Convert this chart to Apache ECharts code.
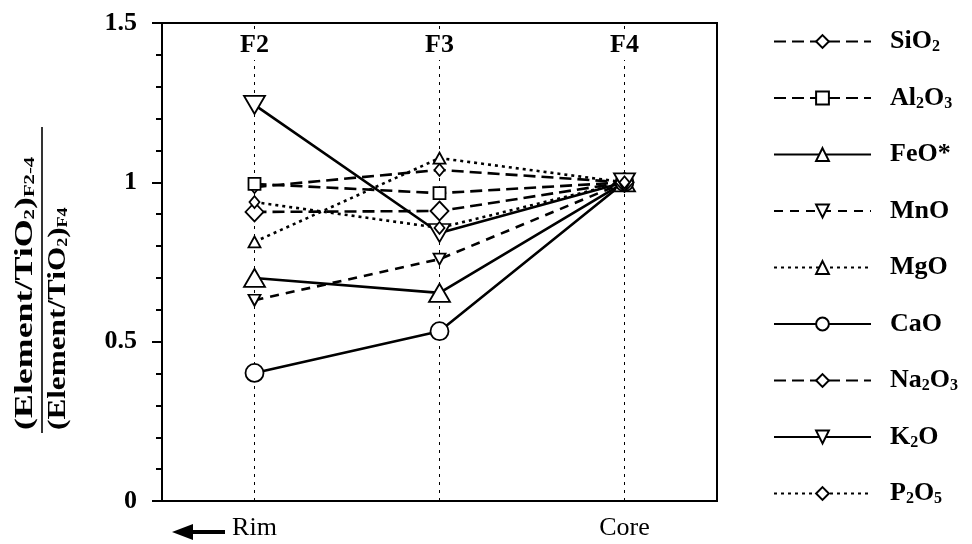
<!DOCTYPE html>
<html>
<head>
<meta charset="utf-8">
<script src="https://cdn.jsdelivr.net/npm/echarts@6/dist/echarts.min.js"></script>
<style>html,body{margin:0;padding:0;background:#fff}#c{width:972px;height:544px}</style>
</head>
<body>
<div id="c"></div>
<script>
// ---- data ----
const categories = ['F2', 'F3', 'F4'];
const positionLabels = ['Rim', '', 'Core'];
const seriesNames = ['SiO2', 'Al2O3', 'FeO*', 'MnO', 'MgO', 'CaO', 'Na2O3', 'K2O', 'P2O5'];
const SiO2  = [0.985, 1.039, 1.0];
const Al2O3 = [0.995, 0.966, 1.0];
const FeO   = [0.700, 0.653, 1.0];
const MnO   = [0.630, 0.759, 1.0];
const MgO   = [0.813, 1.076, 1.0];
const CaO   = [0.402, 0.533, 1.0];
const Na2O3 = [0.907, 0.910, 1.0];
const K2O   = [1.243, 0.841, 1.0];
const P2O5  = [0.938, 0.857, 1.0];
const yTickLabels = ['0', '0.5', '1', '1.5'];

const SERIF = '"Liberation Serif", "DejaVu Serif", serif';
const legendRich = {
  'SiO2': 'SiO{s|2}', 'Al2O3': 'Al{s|2}O{s|3}', 'FeO*': 'FeO*', 'MnO': 'MnO', 'MgO': 'MgO',
  'CaO': 'CaO', 'Na2O3': 'Na{s|2}O{s|3}', 'K2O': 'K{s|2}O', 'P2O5': 'P{s|2}O{s|5}'
};

function mk(name, data, symbol, size, dash, rotate) {
  return {
    name: name, type: 'line', data: data,
    symbol: symbol, symbolSize: size, symbolRotate: rotate || 0,
    showSymbol: true,
    lineStyle: { color: '#000', width: 2.6, type: dash },
    itemStyle: { color: '#fff', borderColor: '#000', borderWidth: 1.8 },
    emphasis: { disabled: true },
    z: 3
  };
}

const series = [
  mk('SiO2', SiO2, 'diamond', [10, 12], [12, 6]),
  mk('Al2O3', Al2O3, 'rect', 12, [12, 6]),
  mk('FeO*', FeO, 'triangle', [21, 18], 'solid'),
  mk('MnO', MnO, 'triangle', [12, 11], [9, 7], 180),
  mk('MgO', MgO, 'triangle', [12, 11], [3, 4]),
  mk('CaO', CaO, 'circle', 18, 'solid'),
  mk('Na2O3', Na2O3, 'diamond', [18, 19], [12, 6]),
  mk('K2O', K2O, 'triangle', [21, 18], 'solid', 180),
  mk('P2O5', P2O5, 'diamond', [10, 12], [3, 4])
];
series[0].markLine = {
  silent: true, symbol: ['none', 'none'], label: { show: false },
  lineStyle: { color: '#000', width: 1, type: [3, 5] },
  data: categories.map(c => ({ xAxis: c })),
  animation: false,
  z: 1
};

const chart = echarts.init(document.getElementById('c'), null, { renderer: 'canvas' });
chart.setOption({
  animation: false,
  backgroundColor: '#fff',
  grid: { left: 162, right: 255, top: 23, bottom: 43, show: true, borderColor: '#000', borderWidth: 2 },
  xAxis: [
    {
      type: 'category', data: categories, position: 'bottom', boundaryGap: true,
      axisLine: { lineStyle: { color: '#000', width: 2 } },
      axisTick: { alignWithLabel: true, length: 13, lineStyle: { color: '#000', width: 2 } },
      axisLabel: {
        formatter: (v, i) => positionLabels[i], margin: 14,
        fontFamily: SERIF, fontSize: 26, color: '#000'
      },
      splitLine: { show: false }
    },
    {
      type: 'category', data: categories, position: 'top', boundaryGap: true, z: 10,
      axisLine: { lineStyle: { color: '#000', width: 2 } },
      axisTick: { show: false },
      axisLabel: {
        inside: true, margin: 7, fontFamily: SERIF, fontWeight: 'bold', fontSize: 26, color: '#000',
        backgroundColor: '#fff', padding: [2, 3]
      },
      splitLine: { show: false }
    }
  ],
  yAxis: {
    type: 'value', min: 0, max: 1.5, interval: 0.5,
    axisLine: { show: true, lineStyle: { color: '#000', width: 2 } },
    axisTick: { show: true, length: 10, lineStyle: { color: '#000', width: 2 } },
    minorTick: { show: true, splitNumber: 5, length: 6, lineStyle: { color: '#000', width: 2 } },
    axisLabel: {
      margin: 25, fontFamily: SERIF, fontWeight: 'bold', fontSize: 26, color: '#000',
      formatter: v => yTickLabels[Math.round(v / 0.5)]
    },
    splitLine: { show: false }
  },
  legend: {
    orient: 'vertical', left: 768, top: 23,
    itemWidth: 97, itemHeight: 16, itemGap: 29.5,
    data: seriesNames,
    selectedMode: false,
    formatter: n => legendRich[n],
    textStyle: {
      fontFamily: SERIF, fontWeight: 'bold', fontSize: 26, color: '#000', lineHeight: 27,
      padding: [0, 0, 0, 14],
      rich: { s: { fontFamily: SERIF, fontWeight: 'bold', fontSize: 16, lineHeight: 18, verticalAlign: 'bottom', color: '#000' } }
    }
  },
  graphic: [
    {
      type: 'group', x: 42, y: 430, rotation: Math.PI / 2, silent: true,
      children: [
        { type: 'line', shape: { x1: -3, y1: 0, x2: 303, y2: 0 }, style: { stroke: '#000', lineWidth: 1.6 } },
        { type: 'text', x: 0, y: -17, scaleX: 1.38, style: {
            text: '(Element/TiO{s|2}){s|F2-4}', font: 'bold 26px ' + SERIF, fill: '#000',
            align: 'left', verticalAlign: 'middle',
            rich: { s: { font: 'bold 15px ' + SERIF, fill: '#000', verticalAlign: 'bottom', lineHeight: 18 } }
        } },
        { type: 'text', x: 0, y: 16, scaleX: 1.2, style: {
            text: '(Element/TiO{s|2}){s|F4}', font: 'bold 26px ' + SERIF, fill: '#000',
            align: 'left', verticalAlign: 'middle',
            rich: { s: { font: 'bold 15px ' + SERIF, fill: '#000', verticalAlign: 'bottom', lineHeight: 18 } }
        } }
      ]
    },
    {
      type: 'group', silent: true,
      children: [
        { type: 'polygon', shape: { points: [[172, 532], [193, 524], [193, 540]] }, style: { fill: '#000' } },
        { type: 'rect', shape: { x: 190, y: 530, width: 35, height: 4 }, style: { fill: '#000' } }
      ]
    }
  ],
  series: series
});
</script>
</body>
</html>
